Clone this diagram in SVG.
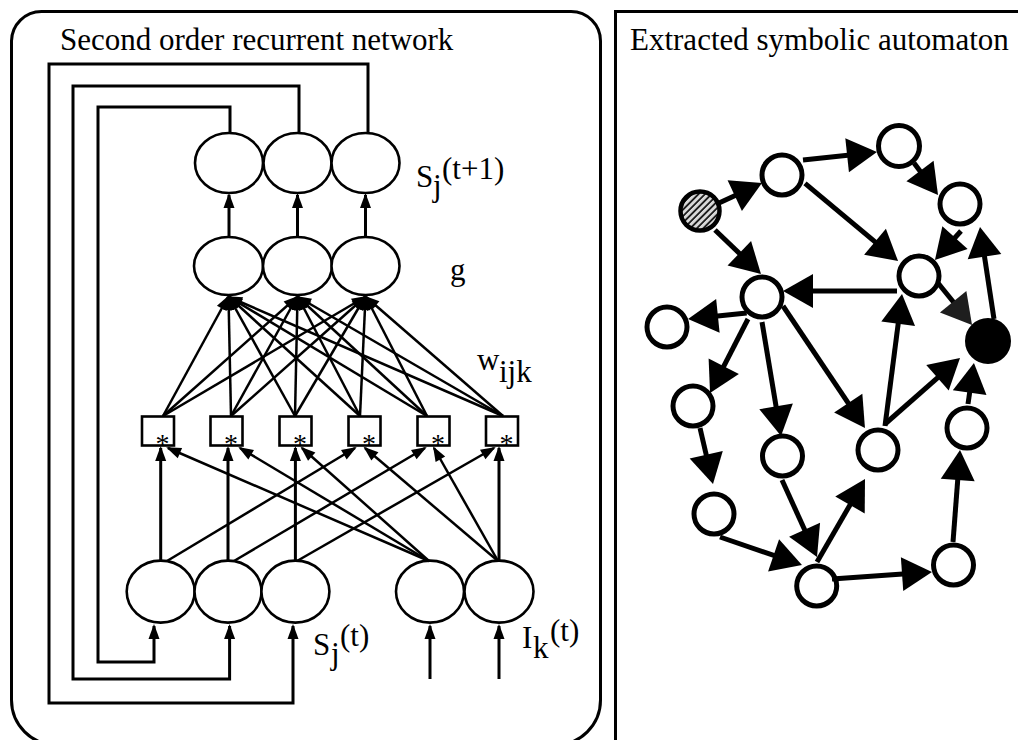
<svg xmlns="http://www.w3.org/2000/svg" width="1018" height="740" viewBox="0 0 1018 740">
<style>
.panel{fill:none;stroke:#000;stroke-width:3}
.unit{fill:#fff;stroke:#000;stroke-width:2.6}
.box{fill:#fff;stroke:#000;stroke-width:2.6}
.wire{fill:none;stroke:#000;stroke-width:3}
.syn{fill:none;stroke:#000;stroke-width:2.5;marker-end:url(#ah)}
.state{fill:#fff;stroke:#000;stroke-width:5}
.edge{fill:none;stroke:#000;stroke-width:5;marker-end:url(#big)}
text{font-family:"Liberation Serif","Times New Roman",serif;font-size:31px;fill:#000}
.ast{font-size:28px;text-anchor:middle;fill:#000}
</style>
<defs>
<marker id="ah" markerUnits="userSpaceOnUse" markerWidth="15" markerHeight="11" refX="13" refY="5.5" orient="auto" overflow="visible"><path d="M0,0 L15,5.5 L0,11 z" fill="#000"/></marker>
<marker id="big" markerUnits="userSpaceOnUse" markerWidth="30" markerHeight="34" refX="22" refY="17" orient="auto" overflow="visible"><path d="M0,0 L30,17 L0,34 z" fill="#000"/></marker>
<marker id="bigGray" markerUnits="userSpaceOnUse" markerWidth="30" markerHeight="34" refX="22" refY="17" orient="auto" overflow="visible"><path d="M0,0 L30,17 L0,34 z" fill="#1e1e1e"/></marker>
<pattern id="hatch" patternUnits="userSpaceOnUse" width="4.6" height="4.6" patternTransform="rotate(45)"><rect width="4.6" height="4.6" fill="#d8d8d8"/><line x1="1" y1="0" x2="1" y2="4.6" stroke="#000" stroke-width="1.6"/></pattern>
</defs>
<rect width="1018" height="740" fill="#fff"/>
<!-- panels -->
<path class="panel" d="M41.5,11.5 H571 A29.5,29.5 0 0 1 600.5,41 V700 A45,45 0 0 1 555.5,745 H56.5 A45,45 0 0 1 11.5,700 V41 A30,30 0 0 1 41.5,11.5 Z"/>
<rect class="panel" x="615.5" y="11.5" width="500" height="800"/>
<text x="60" y="50">Second order recurrent network</text>
<text x="630" y="50">Extracted symbolic automaton</text>
<!-- labels -->
<text><tspan x="416" y="187">S</tspan><tspan x="433" y="196">j</tspan><tspan x="442" y="179">(t+1)</tspan></text>
<text x="450" y="280">g</text>
<text><tspan x="477" y="370">w</tspan><tspan x="499" y="382">ijk</tspan></text>
<text><tspan x="313" y="655">S</tspan><tspan x="331" y="664">j</tspan><tspan x="340" y="646">(t)</tspan></text>
<text><tspan x="522" y="648">I</tspan><tspan x="533" y="658">k</tspan><tspan x="550" y="641">(t)</tspan></text>
<!-- left network nodes -->
<g id="out1"><ellipse class="unit" cx="229" cy="163" rx="34" ry="30"/></g>
<g id="out2"><ellipse class="unit" cx="297.5" cy="163" rx="34" ry="30"/></g>
<g id="out3"><ellipse class="unit" cx="365.5" cy="163" rx="34" ry="30"/></g>
<g id="g1"><ellipse class="unit" cx="228.5" cy="266" rx="34.5" ry="29"/></g>
<g id="g2"><ellipse class="unit" cx="297.5" cy="266" rx="34.5" ry="29"/></g>
<g id="g3"><ellipse class="unit" cx="365.5" cy="266" rx="34" ry="29"/></g>
<g id="p1"><rect class="box" x="142" y="416.5" width="32" height="29"/><text class="ast" x="162.5" y="453">*</text></g>
<g id="p2"><rect class="box" x="210.5" y="416.5" width="32" height="29"/><text class="ast" x="231" y="453">*</text></g>
<g id="p3"><rect class="box" x="279.5" y="416.5" width="32" height="29"/><text class="ast" x="300" y="453">*</text></g>
<g id="p4"><rect class="box" x="348.5" y="416.5" width="32" height="29"/><text class="ast" x="369" y="453">*</text></g>
<g id="p5"><rect class="box" x="417.5" y="416.5" width="32" height="29"/><text class="ast" x="438" y="453">*</text></g>
<g id="p6"><rect class="box" x="486" y="416.5" width="32" height="29"/><text class="ast" x="506.5" y="453">*</text></g>
<g id="s1"><ellipse class="unit" cx="160.7" cy="591.6" rx="34" ry="31"/></g>
<g id="s2"><ellipse class="unit" cx="228" cy="591.6" rx="33.5" ry="31"/></g>
<g id="s3"><ellipse class="unit" cx="295.4" cy="591.6" rx="34" ry="31"/></g>
<g id="i1"><ellipse class="unit" cx="430" cy="591.6" rx="34" ry="31"/></g>
<g id="i2"><ellipse class="unit" cx="499" cy="591.6" rx="34.5" ry="31"/></g>
<!-- automaton nodes -->
<g id="nA"><circle cx="700" cy="211" r="19.5" fill="url(#hatch)" stroke="#000" stroke-width="4.5"/></g>
<g id="nB"><circle class="state" cx="782" cy="175" r="20"/></g>
<g id="nC"><circle class="state" cx="899" cy="146" r="20.5"/></g>
<g id="nD"><circle class="state" cx="960" cy="204" r="20"/></g>
<g id="nE"><circle class="state" cx="919" cy="276" r="20"/></g>
<g id="nF"><circle class="state" cx="762" cy="297" r="20"/></g>
<g id="nG"><circle class="state" cx="667" cy="327" r="20"/></g>
<g id="nH"><circle cx="988" cy="341" r="21" fill="#000" stroke="#000" stroke-width="4"/></g>
<g id="nI"><circle class="state" cx="693" cy="406" r="20"/></g>
<g id="nJ"><circle class="state" cx="782.5" cy="456" r="20"/></g>
<g id="nK"><circle class="state" cx="878" cy="450" r="20"/></g>
<g id="nL"><circle class="state" cx="967" cy="428" r="20"/></g>
<g id="nM"><circle class="state" cx="714" cy="514" r="20"/></g>
<g id="nN"><circle class="state" cx="816.7" cy="586" r="20"/></g>
<g id="nO"><circle class="state" cx="953.5" cy="565" r="20"/></g>
<!-- connectors -->
<g id="connectors">
<path class="wire" d="M230,133 V107 H98 V662 H154 V626" marker-end="url(#ah)"/>
<path class="wire" d="M299,133 V86 H73 V679 H229.6 V626" marker-end="url(#ah)"/>
<path class="wire" d="M368,133 V64 H49 V703 H293 V626" marker-end="url(#ah)"/>
<path class="wire" d="M430,679 V626" marker-end="url(#ah)"/>
<path class="wire" d="M499,679 V626" marker-end="url(#ah)"/>
<path class="wire" d="M229,237 V195" marker-end="url(#ah)"/>
<path class="wire" d="M297.5,237 V195" marker-end="url(#ah)"/>
<path class="wire" d="M365.5,237 V195" marker-end="url(#ah)"/>
<line class="syn" x1="163" y1="416" x2="228" y2="297"/>
<line class="syn" x1="163" y1="416" x2="297" y2="297"/>
<line class="syn" x1="163" y1="416" x2="365" y2="297"/>
<line class="syn" x1="231" y1="416" x2="228.5" y2="297"/>
<line class="syn" x1="231" y1="416" x2="297" y2="297"/>
<line class="syn" x1="231" y1="416" x2="365" y2="297"/>
<line class="syn" x1="295" y1="416" x2="229" y2="297"/>
<line class="syn" x1="295" y1="416" x2="297.5" y2="297"/>
<line class="syn" x1="295" y1="416" x2="365" y2="297"/>
<line class="syn" x1="360" y1="416" x2="229" y2="297"/>
<line class="syn" x1="360" y1="416" x2="298" y2="297"/>
<line class="syn" x1="360" y1="416" x2="365.5" y2="297"/>
<line class="syn" x1="427" y1="416" x2="229" y2="297"/>
<line class="syn" x1="427" y1="416" x2="298" y2="297"/>
<line class="syn" x1="427" y1="416" x2="366" y2="297"/>
<line class="syn" x1="503" y1="416" x2="229" y2="297"/>
<line class="syn" x1="503" y1="416" x2="298" y2="297"/>
<line class="syn" x1="503" y1="416" x2="366" y2="297"/>
<line class="syn" x1="160.7" y1="561" x2="160.7" y2="448" style="stroke-width:3"/>
<line class="syn" x1="228" y1="561" x2="228" y2="448" style="stroke-width:3"/>
<line class="syn" x1="295.4" y1="561" x2="295.4" y2="448" style="stroke-width:3"/>
<line class="syn" x1="499" y1="561" x2="499" y2="448" style="stroke-width:3"/>
<line class="syn" x1="167" y1="561" x2="355" y2="448"/>
<line class="syn" x1="234" y1="561" x2="425" y2="448"/>
<line class="syn" x1="297" y1="561" x2="494" y2="448"/>
<line class="syn" x1="429" y1="561" x2="168" y2="448"/>
<line class="syn" x1="429" y1="561" x2="240" y2="448"/>
<line class="syn" x1="429" y1="561" x2="302" y2="448"/>
<line class="syn" x1="498" y1="561" x2="365" y2="448"/>
<line class="syn" x1="498" y1="561" x2="434" y2="448"/>
<line class="edge" x1="719" y1="203" x2="754.7" y2="186.4"/>
<line class="edge" x1="803" y1="160" x2="869" y2="152.9"/>
<line class="edge" x1="914" y1="163" x2="933.2" y2="188.6"/>
<line class="edge" x1="805" y1="183.3" x2="891.9" y2="255.9"/>
<line class="edge" x1="715" y1="230" x2="755.2" y2="268.5"/>
<line class="edge" x1="961" y1="231" x2="940.3" y2="254"/>
<line class="edge" x1="897" y1="291" x2="791" y2="291"/>
<line class="edge" x1="938" y1="283" x2="967" y2="318.8" style="marker-end:url(#bigGray)"/>
<line class="edge" x1="994" y1="319" x2="981.2" y2="234.9"/>
<line class="edge" x1="746.7" y1="313" x2="696" y2="318.2"/>
<line class="edge" x1="748" y1="319" x2="713.7" y2="385.9"/>
<line class="edge" x1="762" y1="322" x2="779.7" y2="428.1"/>
<line class="edge" x1="783" y1="306" x2="860.5" y2="421.4"/>
<line class="edge" x1="885" y1="426" x2="901" y2="301.9"/>
<line class="edge" x1="885" y1="424" x2="954" y2="363.3"/>
<line class="edge" x1="968" y1="404" x2="972.8" y2="370.9"/>
<line class="edge" x1="700" y1="428" x2="711.2" y2="476.2"/>
<line class="edge" x1="782" y1="480" x2="813.7" y2="549.7"/>
<line class="edge" x1="720" y1="537" x2="794.4" y2="562.4"/>
<line class="edge" x1="817" y1="562" x2="861" y2="485.9"/>
<line class="edge" x1="832" y1="579" x2="924" y2="572.6"/>
<line class="edge" x1="953" y1="542" x2="959.4" y2="458"/>
</g>
</svg>
